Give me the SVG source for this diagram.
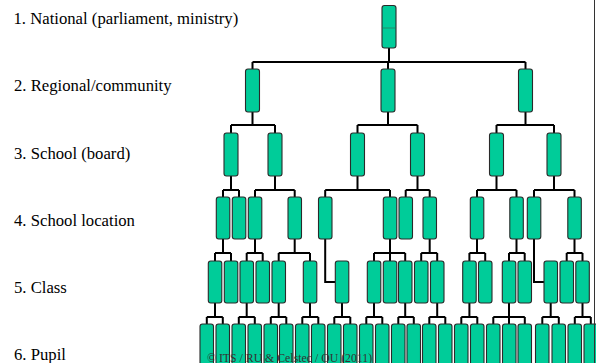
<svg xmlns="http://www.w3.org/2000/svg" width="596" height="363" viewBox="0 0 596 363">
<style>
.n{fill:#00CC99;stroke:#2a2a2a;stroke-width:1.1;}
.c{fill:none;stroke:#000;stroke-width:2;}
.lbl{font-family:"Liberation Serif","Times New Roman",serif;font-size:16.7px;fill:#000;}
.cp{font-family:"Liberation Serif","Times New Roman",serif;font-size:11.8px;fill:#333;}
</style>
<rect width="596" height="363" fill="#fff"/>
<g id="labels">
<text class="lbl" x="13.5" y="24">1. National (parliament, ministry)</text>
<text class="lbl" x="14" y="91.3">2. Regional/community</text>
<text class="lbl" x="14" y="158.5">3. School (board)</text>
<text class="lbl" x="14" y="225.6">4. School location</text>
<text class="lbl" x="14" y="292.8">5. Class</text>
<text class="lbl" x="14" y="360">6. Pupil</text>
</g>
<g id="connectors">
<path class="c" d="M389 48V62M252.5 62H525.5M252.5 62V69M388 62V69M525.5 62V69"/>
<path class="c" d="M252.5 112V125M231 125H275M231 125V133M275 125V133"/>
<path class="c" d="M388 112V125M357.5 125H417.5M357.5 125V133M417.5 125V133"/>
<path class="c" d="M525.5 112V125M496.5 125H554M496.5 125V133M554 125V133"/>
<path class="c" d="M231 176V190M223 190H239M223 190V197M239 190V197"/>
<path class="c" d="M275 176V190M255 190H294.7M255 190V197M294.7 190V197"/>
<path class="c" d="M357.5 176V190M325.2 190H390M325.2 190V197M390 190V197"/>
<path class="c" d="M417.5 176V190M405.7 190H429.7M405.7 190V197M429.7 190V197"/>
<path class="c" d="M496.5 176V190M477 190H516.5M477 190V197M516.5 190V197"/>
<path class="c" d="M554 176V190M534 190H574.5M534 190V197M574.5 190V197"/>
<path class="c" d="M223 239V253M215 253H231M215 253V261M231 253V261"/>
<path class="c" d="M255 239V253M246.7 253H262.7M246.7 253V261M262.7 253V261"/>
<path class="c" d="M294.7 239V253M278.7 253H310M278.7 253V261M310 253V261"/>
<path class="c" d="M325.2 239V282H335.3"/>
<path class="c" d="M390 239V261M374 253H405.2M374 253V261M405.2 253V261"/>
<path class="c" d="M429.7 239V253M421.2 253H437.2M421.2 253V261M437.2 253V261"/>
<path class="c" d="M477 239V253M469.4 253H485.2M469.4 253V261M485.2 253V261"/>
<path class="c" d="M516.5 239V253M509 253H524.7M509 253V261M524.7 253V261"/>
<path class="c" d="M534 239V282H544"/>
<path class="c" d="M574.5 239V253M566.7 253H582.5M566.7 253V261M582.5 253V261"/>
<path class="c" d="M215 303V317M206.8 317H222.8M206.8 317V324M222.8 317V324"/>
<path class="c" d="M246.7 303V317M238.8 317H254.8M238.8 317V324M254.8 317V324"/>
<path class="c" d="M278.7 303V317M270.8 317H286.3M270.8 317V324M286.3 317V324"/>
<path class="c" d="M310 303V317M302.3 317H318.3M302.3 317V324M318.3 317V324"/>
<path class="c" d="M342 303V317M334.3 317H350.3M334.3 317V324M350.3 317V324"/>
<path class="c" d="M374 303V317M366.3 317H382.3M366.3 317V324M382.3 317V324"/>
<path class="c" d="M405.2 303V317M398.3 317H413.8M398.3 317V324M413.8 317V324"/>
<path class="c" d="M437.2 303V317M429.3 317H445.3M429.3 317V324M445.3 317V324"/>
<path class="c" d="M469.4 303V317M461.3 317H477.3M461.3 317V324M477.3 317V324"/>
<path class="c" d="M509 303V324M493.3 317H524.8M493.3 317V324M524.8 317V324"/>
<path class="c" d="M550.7 303V317M542.3 317H558.8M542.3 317V324M558.8 317V324"/>
<path class="c" d="M582.5 303V317M574.8 317H590.8M574.8 317V324M590.8 317V324"/>
</g>
<g id="level1">
<g id="n1-1"><rect class="n" x="382" y="5.5" width="14" height="42.5" rx="2.5"/><line x1="383" y1="28" x2="395" y2="28" stroke="#2a7a60" stroke-width="0.8"/></g>
</g>
<g id="level2">
<g id="n2-1"><rect class="n" x="245.5" y="69" width="14" height="43" rx="2.5"/></g>
<g id="n2-2"><rect class="n" x="381" y="69" width="14" height="43" rx="2.5"/></g>
<g id="n2-3"><rect class="n" x="518.5" y="69" width="14" height="43" rx="2.5"/></g>
</g>
<g id="level3">
<g id="n3-1"><rect class="n" x="224" y="133" width="14" height="43" rx="2.5"/></g>
<g id="n3-2"><rect class="n" x="268" y="133" width="14" height="43" rx="2.5"/></g>
<g id="n3-3"><rect class="n" x="350.5" y="133" width="14" height="43" rx="2.5"/></g>
<g id="n3-4"><rect class="n" x="410.5" y="133" width="14" height="43" rx="2.5"/></g>
<g id="n3-5"><rect class="n" x="489.5" y="133" width="14" height="43" rx="2.5"/></g>
<g id="n3-6"><rect class="n" x="547" y="133" width="14" height="43" rx="2.5"/></g>
</g>
<g id="level4">
<g id="n4-1"><rect class="n" x="216.3" y="197" width="13.5" height="42" rx="2.5"/></g>
<g id="n4-2"><rect class="n" x="232.3" y="197" width="13.5" height="42" rx="2.5"/></g>
<g id="n4-3"><rect class="n" x="248.3" y="197" width="13.5" height="42" rx="2.5"/></g>
<g id="n4-4"><rect class="n" x="288" y="197" width="13.5" height="42" rx="2.5"/></g>
<g id="n4-5"><rect class="n" x="318.5" y="197" width="13.5" height="42" rx="2.5"/></g>
<g id="n4-6"><rect class="n" x="383.3" y="197" width="13.5" height="42" rx="2.5"/></g>
<g id="n4-7"><rect class="n" x="399" y="197" width="13.5" height="42" rx="2.5"/></g>
<g id="n4-8"><rect class="n" x="423" y="197" width="13.5" height="42" rx="2.5"/></g>
<g id="n4-9"><rect class="n" x="470.3" y="197" width="13.5" height="42" rx="2.5"/></g>
<g id="n4-10"><rect class="n" x="509.8" y="197" width="13.5" height="42" rx="2.5"/></g>
<g id="n4-11"><rect class="n" x="527.3" y="197" width="13.5" height="42" rx="2.5"/></g>
<g id="n4-12"><rect class="n" x="567.8" y="197" width="13.5" height="42" rx="2.5"/></g>
</g>
<g id="level5">
<g id="n5-1"><rect class="n" x="208.3" y="261" width="13.5" height="42" rx="2.5"/></g>
<g id="n5-2"><rect class="n" x="224.3" y="261" width="13.5" height="42" rx="2.5"/></g>
<g id="n5-3"><rect class="n" x="240" y="261" width="13.5" height="42" rx="2.5"/></g>
<g id="n5-4"><rect class="n" x="256" y="261" width="13.5" height="42" rx="2.5"/></g>
<g id="n5-5"><rect class="n" x="272" y="261" width="13.5" height="42" rx="2.5"/></g>
<g id="n5-6"><rect class="n" x="303.3" y="261" width="13.5" height="42" rx="2.5"/></g>
<g id="n5-7"><rect class="n" x="335.3" y="261" width="13.5" height="42" rx="2.5"/></g>
<g id="n5-8"><rect class="n" x="367.3" y="261" width="13.5" height="42" rx="2.5"/></g>
<g id="n5-9"><rect class="n" x="383.3" y="261" width="13.5" height="42" rx="2.5"/></g>
<g id="n5-10"><rect class="n" x="398.5" y="261" width="13.5" height="42" rx="2.5"/></g>
<g id="n5-11"><rect class="n" x="414.5" y="261" width="13.5" height="42" rx="2.5"/></g>
<g id="n5-12"><rect class="n" x="430.5" y="261" width="13.5" height="42" rx="2.5"/></g>
<g id="n5-13"><rect class="n" x="462.7" y="261" width="13.5" height="42" rx="2.5"/></g>
<g id="n5-14"><rect class="n" x="478.5" y="261" width="13.5" height="42" rx="2.5"/></g>
<g id="n5-15"><rect class="n" x="502.3" y="261" width="13.5" height="42" rx="2.5"/></g>
<g id="n5-16"><rect class="n" x="518" y="261" width="13.5" height="42" rx="2.5"/></g>
<g id="n5-17"><rect class="n" x="544" y="261" width="13.5" height="42" rx="2.5"/></g>
<g id="n5-18"><rect class="n" x="560" y="261" width="13.5" height="42" rx="2.5"/></g>
<g id="n5-19"><rect class="n" x="575.8" y="261" width="13.5" height="42" rx="2.5"/></g>
</g>
<g id="level6">
<g id="n6-1"><rect class="n" x="200" y="324" width="13.5" height="46" rx="2.5"/></g>
<g id="n6-2"><rect class="n" x="216" y="324" width="13.5" height="46" rx="2.5"/></g>
<g id="n6-3"><rect class="n" x="232" y="324" width="13.5" height="46" rx="2.5"/></g>
<g id="n6-4"><rect class="n" x="248" y="324" width="13.5" height="46" rx="2.5"/></g>
<g id="n6-5"><rect class="n" x="264" y="324" width="13.5" height="46" rx="2.5"/></g>
<g id="n6-6"><rect class="n" x="279.5" y="324" width="13.5" height="46" rx="2.5"/></g>
<g id="n6-7"><rect class="n" x="295.5" y="324" width="13.5" height="46" rx="2.5"/></g>
<g id="n6-8"><rect class="n" x="311.5" y="324" width="13.5" height="46" rx="2.5"/></g>
<g id="n6-9"><rect class="n" x="327.5" y="324" width="13.5" height="46" rx="2.5"/></g>
<g id="n6-10"><rect class="n" x="343.5" y="324" width="13.5" height="46" rx="2.5"/></g>
<g id="n6-11"><rect class="n" x="359.5" y="324" width="13.5" height="46" rx="2.5"/></g>
<g id="n6-12"><rect class="n" x="375.5" y="324" width="13.5" height="46" rx="2.5"/></g>
<g id="n6-13"><rect class="n" x="391.5" y="324" width="13.5" height="46" rx="2.5"/></g>
<g id="n6-14"><rect class="n" x="407" y="324" width="13.5" height="46" rx="2.5"/></g>
<g id="n6-15"><rect class="n" x="422.5" y="324" width="13.5" height="46" rx="2.5"/></g>
<g id="n6-16"><rect class="n" x="438.5" y="324" width="13.5" height="46" rx="2.5"/></g>
<g id="n6-17"><rect class="n" x="454.5" y="324" width="13.5" height="46" rx="2.5"/></g>
<g id="n6-18"><rect class="n" x="470.5" y="324" width="13.5" height="46" rx="2.5"/></g>
<g id="n6-19"><rect class="n" x="486.5" y="324" width="13.5" height="46" rx="2.5"/></g>
<g id="n6-20"><rect class="n" x="502.5" y="324" width="13.5" height="46" rx="2.5"/></g>
<g id="n6-21"><rect class="n" x="518" y="324" width="13.5" height="46" rx="2.5"/></g>
<g id="n6-22"><rect class="n" x="535.5" y="324" width="13.5" height="46" rx="2.5"/></g>
<g id="n6-23"><rect class="n" x="552" y="324" width="13.5" height="46" rx="2.5"/></g>
<g id="n6-24"><rect class="n" x="568" y="324" width="13.5" height="46" rx="2.5"/></g>
<g id="n6-25"><rect class="n" x="584" y="324" width="13.5" height="46" rx="2.5"/></g>
</g>
<text class="cp" x="207" y="361.5">© ITS / RU &amp; Celstec / OU (2011)</text>
<line x1="594.5" y1="0" x2="594.5" y2="363" stroke="#333" stroke-width="1"/>
</svg>
